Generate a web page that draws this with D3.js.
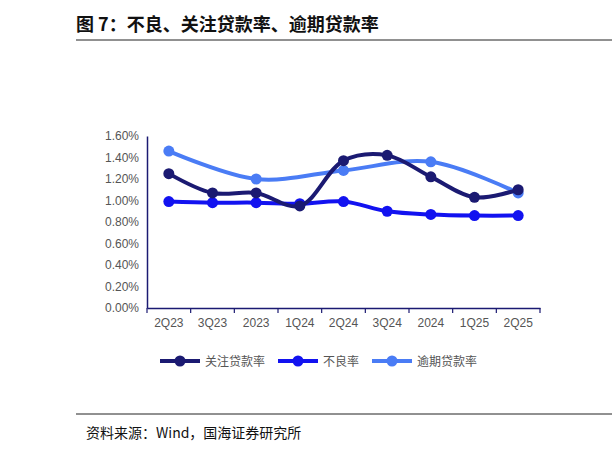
<!DOCTYPE html><html><head><meta charset="utf-8"><script src="https://cdn.jsdelivr.net/npm/d3@7"></script>
<style>body{margin:0;background:#fff}</style></head><body><svg id="c" width="612" height="454"></svg><script>
const categories=["2Q23","3Q23","2023","1Q24","2Q24","3Q24","2024","1Q25","2Q25"];
const attention=[1.25,1.07,1.07,0.95,1.37,1.42,1.22,1.03,1.10];
const npl=[0.99,0.98,0.98,0.97,0.99,0.90,0.87,0.86,0.86];
const overdue=[1.46,null,1.20,null,1.28,null,1.36,null,1.07];
const yTicks=[0,0.2,0.4,0.6,0.8,1.0,1.2,1.4,1.6];
const series=[{name:"关注贷款率",v:attention,c:"#1b1a72"},{name:"不良率",v:npl,c:"#1212f0"},{name:"逾期贷款率",v:overdue,c:"#4a7cf5"}];
const svg=d3.select("#c");
const F="'Noto Sans CJK SC',sans-serif";
svg.append("text").attr("x",76).attr("y",31).attr("font-family",F).attr("font-weight","bold").attr("font-size",18).attr("fill","#111").text("图 7：不良、关注贷款率、逾期贷款率");
svg.append("line").attr("x1",76).attr("x2",612).attr("y1",40).attr("y2",40).attr("stroke","#222").attr("stroke-width",1);
svg.append("line").attr("x1",76).attr("x2",612).attr("y1",414).attr("y2",414).attr("stroke","#222").attr("stroke-width",1);
svg.append("text").attr("x",86).attr("y",438).attr("font-family",F).attr("font-size",14).attr("fill","#111").text("资料来源：Wind，国海证券研究所");
const x=d3.scaleBand().domain(categories).range([147,540]);
const y=d3.scaleLinear().domain([0,1.6]).range([308,136]);
const g=svg.append("g");
g.append("g").attr("transform","translate(0,308)").call(d3.axisBottom(x).tickSizeOuter(0).tickSizeInner(0).tickPadding(10))
 .call(a=>{a.select(".domain").attr("stroke","#1b1a72").attr("stroke-width",1.5);a.selectAll("text").attr("font-family","Arial,'Liberation Sans'").attr("font-size",12).attr("fill","#555");});
g.selectAll(".xt").data(d3.range(categories.length+1)).enter().append("line").attr("x1",i=>147+i*x.step()).attr("x2",i=>147+i*x.step()).attr("y1",308).attr("y2",313).attr("stroke","#1b1a72").attr("stroke-width",1.2);
g.append("g").attr("transform","translate(147,0)").call(d3.axisLeft(y).tickValues(yTicks).tickFormat(d=>d.toFixed(2)+"%").tickSize(0).tickPadding(8))
 .call(a=>{a.select(".domain").attr("stroke","#1b1a72").attr("stroke-width",1.5);a.selectAll("text").attr("font-family","Arial,'Liberation Sans'").attr("font-size",12).attr("fill","#555");});
const cx=d=>x(d.c)+x.bandwidth()/2;
series.slice().reverse().forEach(s=>{
 const pts=s.v.map((v,i)=>({c:categories[i],v})).filter(d=>d.v!=null);
 g.append("path").datum(pts).attr("fill","none").attr("stroke",s.c).attr("stroke-width",4)
  .attr("d",d3.line().x(cx).y(d=>y(d.v)).curve(d3.curveCatmullRom.alpha(0.5)));
 g.selectAll(null).data(pts).enter().append("circle").attr("cx",cx).attr("cy",d=>y(d.v)).attr("r",5.5).attr("fill",s.c);
});
const lx=[160,278,372];
series.forEach((s,i)=>{
 const lg=svg.append("g").attr("transform",`translate(${lx[i]},361)`);
 lg.append("line").attr("x1",0).attr("x2",40).attr("stroke",s.c).attr("stroke-width",4);
 lg.append("circle").attr("cx",20).attr("r",5.5).attr("fill",s.c);
 lg.append("text").attr("x",45).attr("y",4.5).attr("font-family",F).attr("font-size",12).attr("fill","#555").text(s.name);
});
</script></body></html>
